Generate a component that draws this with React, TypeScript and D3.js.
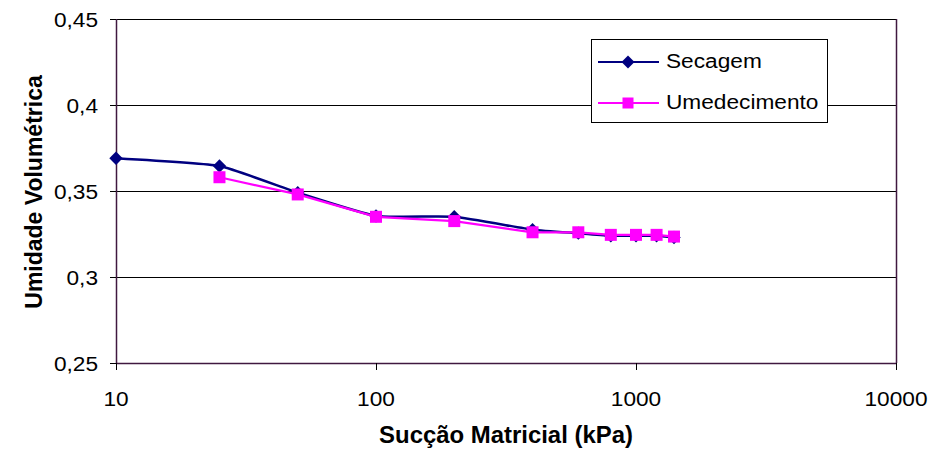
import React from "react";
import * as d3 from "d3";

// succao (kPa)
const suctionSecagem = [10, 25, 50, 100, 200, 400, 600, 800, 1000, 1200, 1400];
const thetaSecagem = [0.369, 0.3645, 0.349, 0.3355, 0.335, 0.3275, 0.3255, 0.324, 0.324, 0.324, 0.323];

const suctionUmed = [25, 50, 100, 200, 400, 600, 800, 1000, 1200, 1400];
const thetaUmed = [0.358, 0.348, 0.335, 0.3325, 0.326, 0.326, 0.3245, 0.3245, 0.3245, 0.3235];

const xTicks = [10, 100, 1000, 10000];
const yTicks = [0.25, 0.3, 0.35, 0.4, 0.45];
const seriesNames = ["Secagem", "Umedecimento"];

const W = 936;
const H = 463;
const plot = { left: 116, right: 896, top: 19, bottom: 363 };
const axisColor = "#401840";
const navy = "#000080";
const pink = "#FF00FF";
const font = "'Liberation Sans', Arial, sans-serif";

const x = d3.scaleLog().domain([10, 10000]).range([plot.left, plot.right]);
const y = d3.scaleLinear().domain([0.25, 0.45]).range([plot.bottom, plot.top]);

const fmtY = (v: number) => d3.format("~g")(+v.toFixed(2)).replace(".", ",");

function Diamond({ cx, cy, r = 6.7 }: { cx: number; cy: number; r?: number }) {
  return (
    <path
      d={`M${cx},${cy - r}L${cx + r},${cy}L${cx},${cy + r}L${cx - r},${cy}Z`}
      fill={navy}
    />
  );
}

function Square({ cx, cy, s = 12 }: { cx: number; cy: number; s?: number }) {
  return <rect x={cx - s / 2} y={cy - s / 2} width={s} height={s} fill={pink} />;
}

// stretched text, the original picture is a bit wider than tall
function Txt({ px, py, anchor = "start", size = 21, bold = false, sx = 1.08, children }: any) {
  return (
    <text
      transform={`translate(${px},${py}) scale(${sx},1)`}
      textAnchor={anchor}
      fontFamily={font}
      fontSize={size}
      fontWeight={bold ? "bold" : "normal"}
      fill="#000"
    >
      {children}
    </text>
  );
}

export default function App() {
  const secPts: [number, number][] = suctionSecagem.map((s, i) => [x(s), y(thetaSecagem[i])]);
  const umPts: [number, number][] = suctionUmed.map((s, i) => [x(s), y(thetaUmed[i])]);

  const smooth = d3.line().curve(d3.curveCardinal.tension(0.55));
  const straight = d3.line();

  const leg = { x: 591, y: 39, w: 236, h: 83 };

  return (
    <svg
      width={W}
      height={H}
      style={{ position: "absolute", left: 0, top: 0, background: "#fff" }}
    >
      {/* gridlines */}
      {yTicks.slice(1).map((t) => (
        <line
          key={"g" + t}
          x1={plot.left}
          x2={plot.right}
          y1={Math.round(y(t)) + 0.5}
          y2={Math.round(y(t)) + 0.5}
          stroke="#000"
          strokeWidth={1}
        />
      ))}

      {/* axes / plot frame */}
      <line x1={plot.left + 0.5} x2={plot.left + 0.5} y1={plot.top} y2={plot.bottom} stroke={axisColor} strokeWidth={1.5} />
      <line x1={plot.right + 0.5} x2={plot.right + 0.5} y1={plot.top} y2={plot.bottom} stroke={axisColor} strokeWidth={1.5} />
      <line x1={plot.left} x2={plot.right + 1} y1={plot.bottom + 0.5} y2={plot.bottom + 0.5} stroke={axisColor} strokeWidth={1.5} />

      {/* y ticks */}
      {yTicks.map((t) => (
        <g key={"y" + t}>
          <line x1={plot.left - 6} x2={plot.left} y1={Math.round(y(t)) + 0.5} y2={Math.round(y(t)) + 0.5} stroke="#000" />
          <Txt px={98} py={y(t) + 7.5} anchor="end">
            {fmtY(t)}
          </Txt>
        </g>
      ))}

      {/* x ticks */}
      {xTicks.map((t) => (
        <g key={"x" + t}>
          <line x1={Math.round(x(t)) + 0.5} x2={Math.round(x(t)) + 0.5} y1={plot.bottom} y2={plot.bottom + 7} stroke="#000" />
          <Txt px={x(t)} py={406} anchor="middle">
            {String(t)}
          </Txt>
        </g>
      ))}

      {/* series */}
      <path d={smooth(secPts) || ""} fill="none" stroke={navy} strokeWidth={2.5} />
      {secPts.map((p, i) => (
        <Diamond key={"d" + i} cx={p[0]} cy={p[1]} />
      ))}
      <path d={straight(umPts) || ""} fill="none" stroke={pink} strokeWidth={2.2} />
      {umPts.map((p, i) => (
        <Square key={"s" + i} cx={p[0]} cy={p[1]} />
      ))}

      {/* legend */}
      <rect x={leg.x + 0.5} y={leg.y + 0.5} width={leg.w} height={leg.h} fill="#fff" stroke="#000" strokeWidth={1} />
      <line x1={598} x2={659} y1={62} y2={62} stroke={navy} strokeWidth={2} />
      <Diamond cx={628} cy={62} r={6.5} />
      <Txt px={666} py={68}>{seriesNames[0]}</Txt>
      <line x1={598} x2={659} y1={103} y2={103} stroke={pink} strokeWidth={2} />
      <Square cx={628} cy={103} s={11} />
      <Txt px={666} py={109}>{seriesNames[1]}</Txt>

      {/* axis titles */}
      <Txt px={506} py={443} anchor="middle" size={23} bold sx={1.04}>
        Sucção Matricial (kPa)
      </Txt>
      <text
        transform={`translate(42,192) rotate(-90)`}
        textAnchor="middle"
        fontFamily={font}
        fontSize={23}
        fontWeight="bold"
      >
        Umidade Volumétrica
      </text>
    </svg>
  );
}
